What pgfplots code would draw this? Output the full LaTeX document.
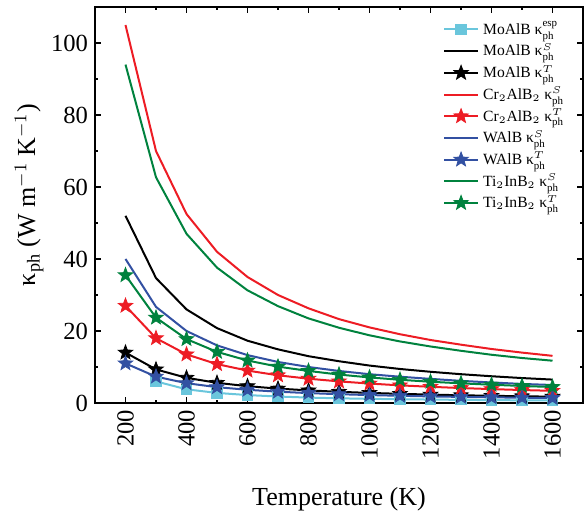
\documentclass[border=0pt]{standalone}
\usepackage{fontspec}
\setmainfont{Liberation Serif}
\usepackage{amsmath}
\usepackage{pgfplots}
\pgfplotsset{compat=1.18}

\definecolor{cred}{RGB}{237,28,36}
\definecolor{cgreen}{RGB}{0,130,62}
\definecolor{cblue}{RGB}{50,80,162}
\definecolor{ccyan}{RGB}{106,198,220}

% filled five-point star
\pgfdeclareplotmark{fstar}{%
  \pgfpathmoveto{\pgfqpointpolar{90}{\pgfplotmarksize}}%
  \pgfpathlineto{\pgfqpointpolar{126}{0.42\pgfplotmarksize}}%
  \pgfpathlineto{\pgfqpointpolar{162}{\pgfplotmarksize}}%
  \pgfpathlineto{\pgfqpointpolar{198}{0.42\pgfplotmarksize}}%
  \pgfpathlineto{\pgfqpointpolar{234}{\pgfplotmarksize}}%
  \pgfpathlineto{\pgfqpointpolar{270}{0.42\pgfplotmarksize}}%
  \pgfpathlineto{\pgfqpointpolar{306}{\pgfplotmarksize}}%
  \pgfpathlineto{\pgfqpointpolar{342}{0.42\pgfplotmarksize}}%
  \pgfpathlineto{\pgfqpointpolar{18}{\pgfplotmarksize}}%
  \pgfpathlineto{\pgfqpointpolar{54}{0.42\pgfplotmarksize}}%
  \pgfpathclose
  \pgfusepathqfillstroke}

\begin{document}
\begin{tikzpicture}
\begin{axis}[
    scale only axis,
    width=244pt, height=198pt,
    xmin=100, xmax=1700,
    ymin=0, ymax=110,
    xtick={200,400,...,1600},
    ytick={0,20,...,100},
    minor x tick num=1,
    minor y tick num=1,
    tick align=inside,
    major tick length=3pt,
    minor tick length=1.6pt,
    axis line style={line width=1pt},
    every tick/.style={black, line width=0.8pt},
    x tick label style={rotate=90, anchor=east},
    tick label style={font=\fontsize{12.3}{14}\selectfont},
    /pgf/number format/assume math mode=true,
    /pgf/number format/1000 sep={},
    xlabel={Temperature (K)},
    ylabel={κ$_{\text{ph}}$ (W m$^{-1}$ K$^{-1}$)},
    label style={font=\fontsize{13}{15}\selectfont},
    xlabel style={at={(axis description cs:0.5,-0.243)}, anchor=center},
    ylabel style={at={(axis description cs:-0.135,0.525)}, anchor=center},
    legend style={draw=none, fill=none, at={(0.70,0.985)}, anchor=north west,
        font=\fontsize{7.8}{9}\selectfont, row sep=-0.9pt},
    legend cell align=left,
    every axis plot/.append style={line width=1pt},
]
\addplot[ccyan, mark=square*, mark size=2.3pt] coordinates {
(300,6.0) (400,3.8) (500,2.8) (600,2.2) (700,1.8) (800,1.5) (900,1.3)
(1000,1.15) (1100,1.05) (1200,0.95) (1300,0.87) (1400,0.8) (1500,0.74) (1600,0.7)};
\addlegendentry{MoAlB κ$^{\text{esp}}_{\text{ph}}$}
\addplot[black, no marks] coordinates {
(200,52) (300,34.7) (400,26) (500,20.8) (600,17.3) (700,14.9) (800,13) (900,11.6)
(1000,10.4) (1100,9.45) (1200,8.67) (1300,8) (1400,7.43) (1500,6.93) (1600,6.5)};
\addlegendentry{MoAlB κ$^{S}_{\text{ph}}$}
\addplot[black, mark=fstar, mark size=3.8pt, mark options={line width=0.4pt}] coordinates {
(200,14) (300,9.33) (400,7) (500,5.6) (600,4.67) (700,4) (800,3.5) (900,3.11)
(1000,2.8) (1100,2.55) (1200,2.33) (1300,2.15) (1400,2) (1500,1.87) (1600,1.75)};
\addlegendentry{MoAlB κ$^{T}_{\text{ph}}$}
\addplot[cred, no marks] coordinates {
(200,105) (300,70) (400,52.5) (500,42) (600,35) (700,30) (800,26.3) (900,23.3)
(1000,21) (1100,19.1) (1200,17.5) (1300,16.2) (1400,15) (1500,14) (1600,13.1)};
\addlegendentry{Cr$_2$AlB$_2$ κ$^{S}_{\text{ph}}$}
\addplot[cred, mark=fstar, mark size=3.8pt, mark options={line width=0.4pt}] coordinates {
(200,27) (300,18) (400,13.5) (500,10.8) (600,9) (700,7.7) (800,6.75) (900,6)
(1000,5.4) (1100,4.9) (1200,4.5) (1300,4.15) (1400,3.86) (1500,3.6) (1600,3.38)};
\addlegendentry{Cr$_2$AlB$_2$ κ$^{T}_{\text{ph}}$}
\addplot[cblue, no marks] coordinates {
(200,40) (300,26.7) (400,20) (500,16) (600,13.3) (700,11.4) (800,10) (900,8.9)
(1000,8) (1100,7.3) (1200,6.7) (1300,6.15) (1400,5.7) (1500,5.3) (1600,5.0)};
\addlegendentry{WAlB κ$^{S}_{\text{ph}}$}
\addplot[cblue, mark=fstar, mark size=3.8pt, mark options={line width=0.4pt}] coordinates {
(200,11) (300,7.33) (400,5.5) (500,4.4) (600,3.67) (700,3.14) (800,2.75) (900,2.44)
(1000,2.2) (1100,2) (1200,1.83) (1300,1.69) (1400,1.57) (1500,1.47) (1600,1.38)};
\addlegendentry{WAlB κ$^{T}_{\text{ph}}$}
\addplot[cgreen, no marks] coordinates {
(200,94) (300,62.7) (400,47) (500,37.6) (600,31.3) (700,26.9) (800,23.5) (900,20.9)
(1000,18.8) (1100,17.1) (1200,15.7) (1300,14.5) (1400,13.4) (1500,12.5) (1600,11.75)};
\addlegendentry{Ti$_2$InB$_2$ κ$^{S}_{\text{ph}}$}
\addplot[cgreen, mark=fstar, mark size=3.8pt, mark options={line width=0.4pt}] coordinates {
(200,35.5) (300,23.7) (400,17.75) (500,14.2) (600,11.8) (700,10.1) (800,8.9) (900,7.9)
(1000,7.1) (1100,6.45) (1200,5.9) (1300,5.46) (1400,5.07) (1500,4.73) (1600,4.44)};
\addlegendentry{Ti$_2$InB$_2$ κ$^{T}_{\text{ph}}$}
\end{axis}
\pgfresetboundingbox
\path[use as bounding box] ([xshift=-47.5pt,yshift=-54.5pt]current axis.south west)
  rectangle ([xshift=2pt,yshift=3.5pt]current axis.north east);
\end{tikzpicture}
\end{document}
